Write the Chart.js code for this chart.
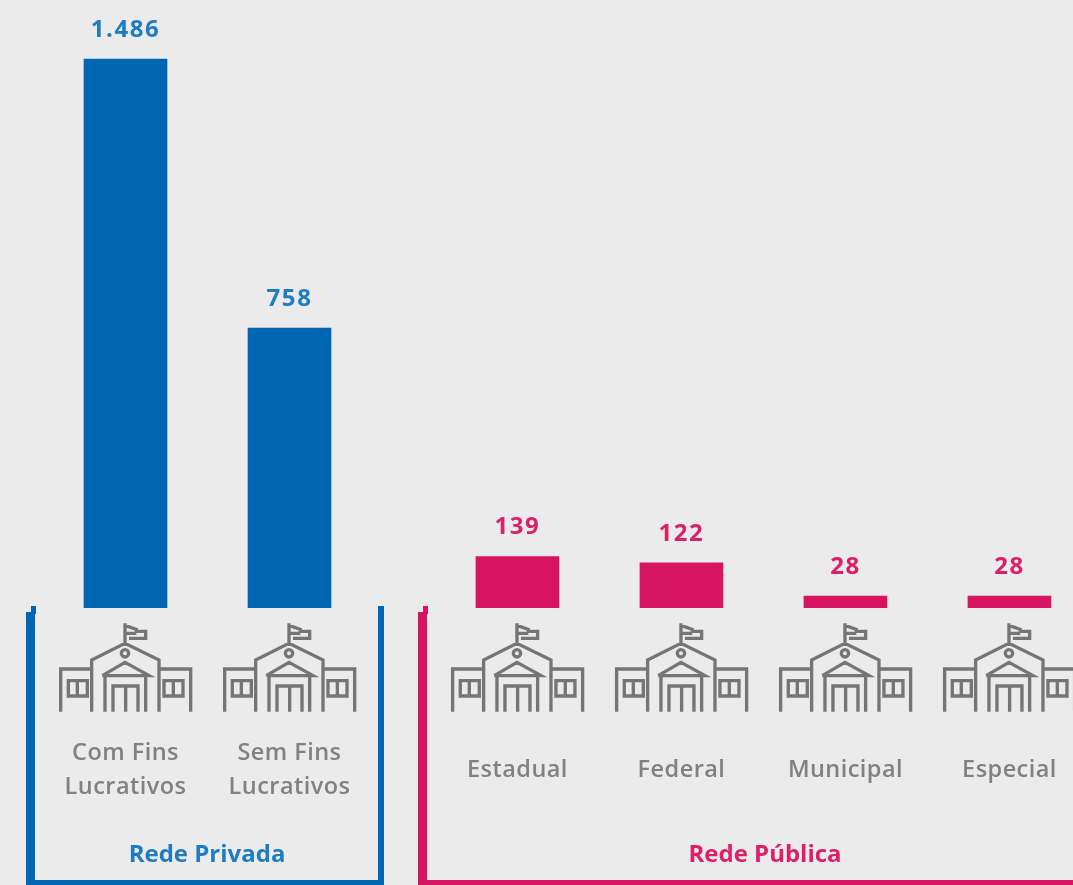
<!DOCTYPE html>
<html lang="pt-BR"><head><meta charset="utf-8">
<style>html,body{margin:0;padding:0;background:#ebebeb;overflow:hidden}canvas{display:block;filter:blur(.7px)}</style>
<script src="https://cdn.jsdelivr.net/npm/chart.js@4/dist/chart.umd.js"></script>
</head><body><canvas id="c" width="1073" height="885"></canvas>
<script>
const categories=[["Com Fins","Lucrativos"],["Sem Fins","Lucrativos"],["Estadual"],["Federal"],["Municipal"],["Especial"]];
const values=[1486,758,139,122,28,28];
const slots=[0,1,2.39,3.39,4.39,5.39];
const groups=["Rede Privada","Rede Pública"];
const groupOf=[0,0,1,1,1,1];
const BLUE="#0066b3",PINK="#d7145f",BLUE_T="#1f7cc0",PINK_T="#dc2068",GRAY="#7f8184",ICON="#737577";
const FONT='"Open Sans"';
function drawIcon(ctx,cx,base){
  const dx=-106.5,dy=-18;
  ctx.save();ctx.translate(cx+dx,base+dy);ctx.scale(1/3,1/3);
  ctx.strokeStyle=ICON;ctx.lineWidth=10;ctx.lineJoin="miter";ctx.lineCap="butt";ctx.beginPath();
  const seg=(...p)=>{ctx.moveTo(p[0],p[1]);for(let i=2;i<p.length;i+=2)ctx.lineTo(p[i],p[i+1]);};
  seg(318,100,318,162);
  seg(318,106,352,118,352,124,380,124,380,145,330,145);
  seg(318,130,352,130);
  seg(218,365,218,210,318,160,420,210,420,365);
  seg(218,237,125,237,125,365);
  seg(420,237,515,237,515,365);
  ctx.rect(148,272,57,46);seg(175,272,175,318);
  ctx.rect(435,272,57,46);seg(463,272,463,318);
  seg(250,257,318,217,390,257,250,257);
  seg(258,257,258,365);seg(380,257,380,365);
  seg(282,365,282,288,357,288,357,365);seg(320,288,320,365);
  ctx.moveTo(329,190);ctx.arc(318,190,11,0,Math.PI*2);
  ctx.stroke();ctx.restore();
}
const overlay={id:"overlay",afterDatasetsDraw(chart){
  const ctx=chart.ctx,x=chart.scales.x,y=chart.scales.y,base=y.getPixelForValue(0);
  const bars=chart.getDatasetMeta(0).data;
  ctx.save();ctx.textAlign="center";ctx.textBaseline="middle";
  values.forEach((v,i)=>{
    const cx=x.getPixelForValue(slots[i]);
    ctx.font=`700 24px ${FONT}`;ctx.letterSpacing="1.6px";ctx.fillStyle=groupOf[i]?PINK_T:BLUE_T;
    ctx.fillText(String(v).replace(/\B(?=(\d{3})+$)/g,"."),cx,bars[i].y-29);
    drawIcon(ctx,cx,base);
    ctx.font=`600 23.5px ${FONT}`;ctx.letterSpacing="0.45px";ctx.fillStyle=GRAY;
    const L=categories[i];
    if(L.length===2){ctx.fillText(L[0],cx,753);ctx.fillText(L[1],cx,787);}
    else ctx.fillText(L[0],cx,770);
  });
  ctx.font=`700 24px ${FONT}`;ctx.letterSpacing="0px";
  ctx.fillStyle=BLUE_T;ctx.fillText(groups[0],207,855);
  ctx.fillStyle=PINK_T;ctx.fillText(groups[1],765,855);
  ctx.fillStyle=BLUE;
  ctx.fillRect(26,612,9,273);ctx.fillRect(31,606,5,8);
  ctx.fillRect(378,606,6,279);ctx.fillRect(26,880,358,5);
  ctx.fillStyle=PINK;
  ctx.fillRect(418,612,9,273);ctx.fillRect(423,606,5,8);
  ctx.fillRect(418,880,655,5);
  ctx.restore();
}};
new Chart(document.getElementById("c"),{
  type:"bar",
  data:{datasets:[{data:values.map((v,i)=>({x:slots[i],y:v})),
    backgroundColor:groupOf.map(g=>g?PINK:BLUE),barThickness:83,minBarLength:12,borderWidth:0}]},
  options:{responsive:false,animation:false,
    layout:{padding:{bottom:277,left:0,right:0,top:0}},
    plugins:{legend:{display:false},tooltip:{enabled:false},title:{display:false}},
    scales:{
      x:{type:"linear",display:false,min:-125.5/164,max:947.5/164,offset:false},
      y:{display:false,min:0,max:1646}
    }},
  plugins:[{id:"bg",beforeDraw(c){c.ctx.save();c.ctx.fillStyle="#ebebeb";c.ctx.fillRect(0,0,1073,885);c.ctx.restore();}},overlay]
});
</script></body></html>
